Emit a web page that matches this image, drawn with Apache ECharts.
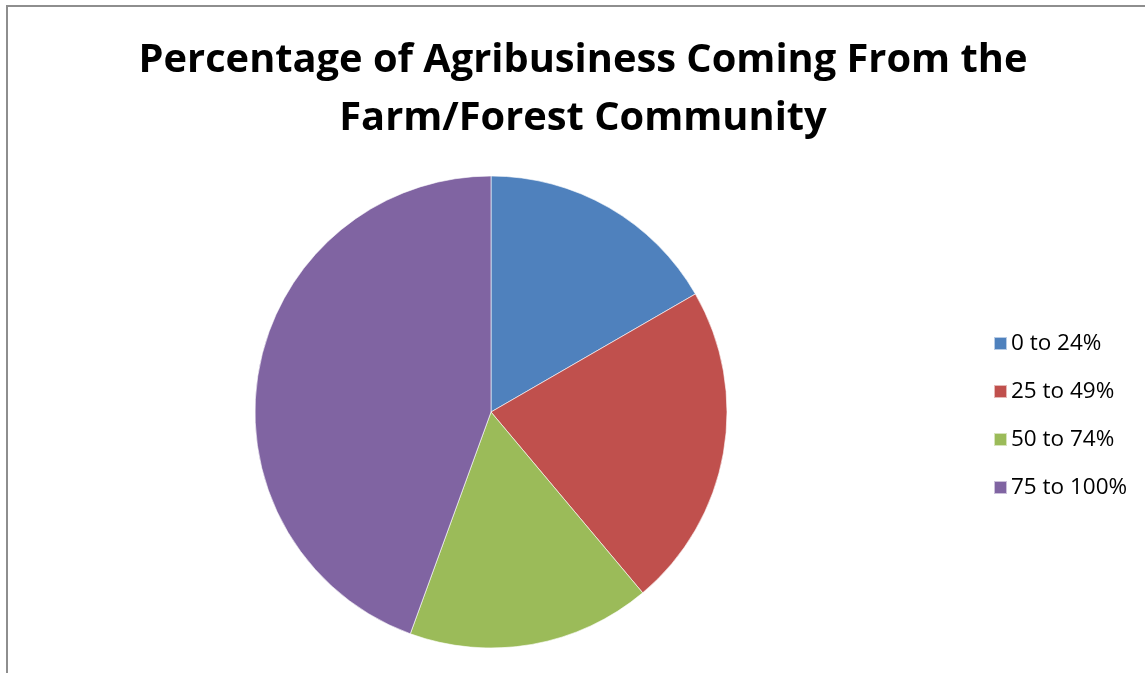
<!DOCTYPE html>
<html>
<head>
<meta charset="utf-8">
<script src="https://cdn.jsdelivr.net/npm/echarts@6/dist/echarts.min.js"></script>
<style>
  html, body { margin: 0; padding: 0; background: #fff; }
  #frame { position: absolute; left: 6px; top: 5px; width: 1145px; height: 680px; border-left: 2px solid #8e8e8e; border-top: 2px solid #8e8e8e; box-sizing: border-box; }
  #chart { position: absolute; left: 0; top: 0; width: 1145px; height: 673px; }
</style>
</head>
<body>
<div id="frame"></div>
<div id="chart"></div>
<script>
// Response shares by percentage band
const categories = ['0 to 24%', '25 to 49%', '50 to 74%', '75 to 100%'];
const counts = [6, 8, 6, 16];
const colors = ['#4F81BD', '#C0504D', '#9BBB59', '#8064A2'];

const chart = echarts.init(document.getElementById('chart'), null, { renderer: 'canvas' });

chart.setOption({
  animation: false,
  color: colors,
  title: {
    text: 'Percentage of Agribusiness Coming From the\nFarm/Forest Community',
    left: 578,
    top: 27,
    textAlign: 'center',
    textStyle: {
      fontFamily: 'Open Sans',
      fontWeight: 'bold',
      fontSize: 39.8,
      lineHeight: 58,
      color: '#000'
    }
  },
  legend: {
    orient: 'vertical',
    left: 988,
    top: 327,
    itemWidth: 13,
    itemHeight: 13,
    itemGap: 25,
    icon: 'rect',
    textStyle: {
      fontFamily: 'Open Sans',
      fontSize: 22.5,
      lineHeight: 20,
      color: '#000',
      padding: [0, 0, 0, -1]
    },
    data: categories
  },
  series: [{
    type: 'pie',
    center: [491, 412],
    radius: 236,
    startAngle: 90,
    clockwise: true,
    label: { show: false },
    labelLine: { show: false },
    emphasis: { disabled: true },
    itemStyle: { borderColor: 'rgba(255,255,255,0.6)', borderWidth: 1 },
    data: categories.map((name, i) => ({ name, value: counts[i] }))
  }]
});
</script>
</body>
</html>
